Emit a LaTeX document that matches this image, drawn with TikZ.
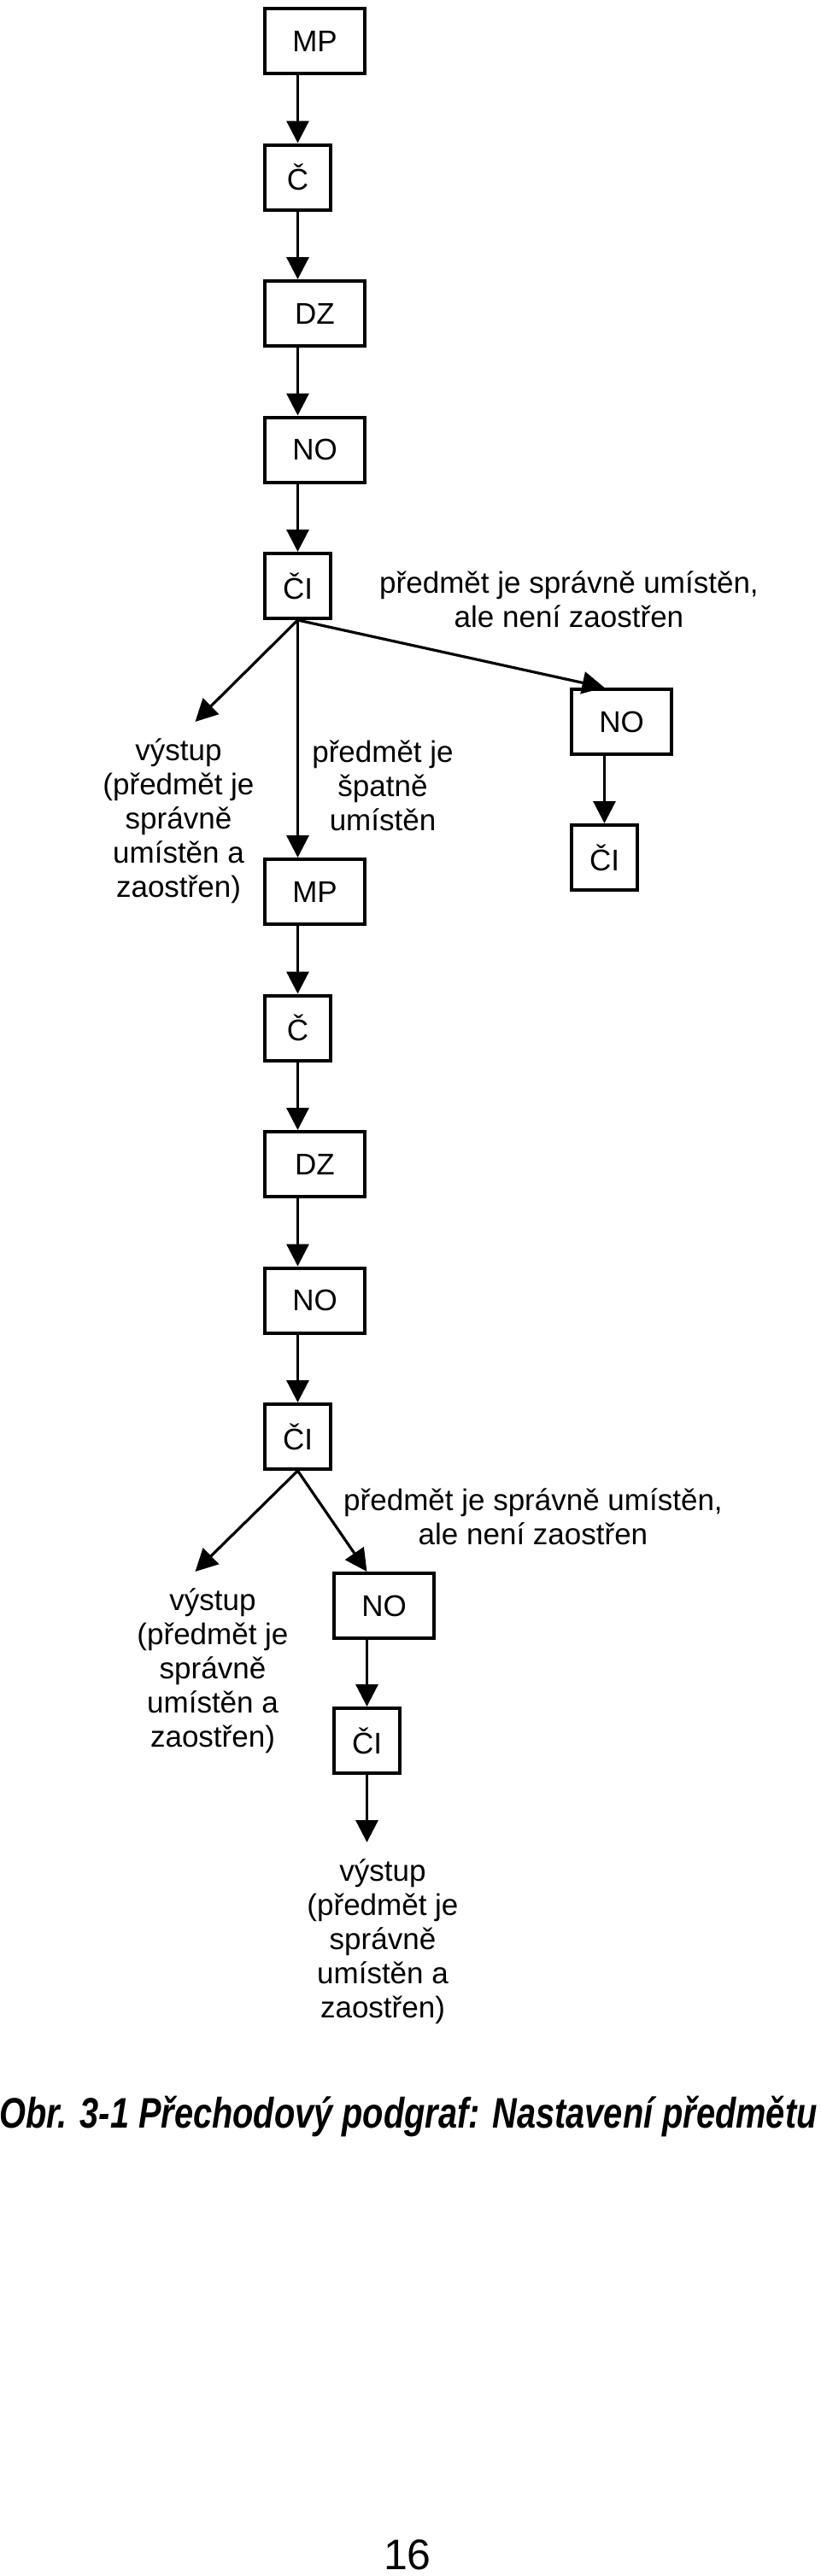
\documentclass[tikz,border=0pt]{standalone}
\usepackage{fontspec}
\setmainfont{Liberation Sans}
\usetikzlibrary{positioning,arrows.meta,calc}

\begin{document}
\begin{tikzpicture}[
  font=\fontsize{17.5pt}{20pt}\selectfont,
  >={Triangle[length=13pt,width=13pt]},
  %% Node styles
  box/.style={
    rectangle, draw=black, line width=2pt,
    minimum height=38pt, inner sep=0pt
  },
  widebox/.style={box, minimum width=58.5pt},
  narrowbox/.style={box, minimum width=38.5pt},
  note/.style={align=center, inner sep=0pt},
  %% Arrow styles
  flow/.style={->, line width=1.6pt},
]

\useasboundingbox (0,0) rectangle (480pt,-1508pt);

%% ── First pass ─────────────────────────────────────────────────────────────
\node[widebox, anchor=north west] (mp1) at (154pt,-4pt) {MP};
\node[narrowbox, below=39.75pt of mp1.south west, anchor=north west] (c1) {Č};
\node[widebox, below=39.75pt of c1.south west, anchor=north west] (dz1) {DZ};
\node[widebox, below=39.75pt of dz1.south west, anchor=north west] (no1) {NO};
\node[narrowbox, below=39.75pt of no1.south west, anchor=north west] (ci1) {ČI};

\draw[flow] (c1 |- mp1.south) -- (c1.north);
\draw[flow] (c1.south) -- (c1 |- dz1.north);
\draw[flow] (c1 |- dz1.south) -- (c1 |- no1.north);
\draw[flow] (c1 |- no1.south) -- (ci1.north);

%% ── Branches after first ČI ────────────────────────────────────────────────
\node[widebox, below=139pt of ci1.south west, anchor=north west] (mp2) {MP};
\node[widebox, below right=39.5pt and 139pt of ci1.south east, anchor=north west] (no3) {NO};
\node[narrowbox, below=39.5pt of no3.south west, anchor=north west] (ci3) {ČI};

\coordinate (end1) at ($(ci1.south)+(-60pt,-59.5pt)$);
\draw[flow] (ci1.south) -- (end1);
\draw[flow] (ci1.south) -- (ci1 |- mp2.north);
\draw[flow] (ci1.south) -- (ci3 |- no3.north);
\draw[flow] (ci3 |- no3.south) -- (ci3.north);

\node[note] (lab1) at ($(ci1.center)+(158.75pt,-8pt)$)
  {předmět je správně umístěn,\\ale není zaostřen};
\node[note] (out1) at ($(ci1.south)+(-69.75pt,-117.5pt)$)
  {výstup\\(předmět je\\správně\\umístěn a\\zaostřen)};
\node[note] (bad1) at ($(ci1.south)+(49.75pt,-97pt)$)
  {předmět je\\špatně\\umístěn};

%% ── Second pass ────────────────────────────────────────────────────────────
\node[narrowbox, below=39.75pt of mp2.south west, anchor=north west] (c2) {Č};
\node[widebox, below=39.75pt of c2.south west, anchor=north west] (dz2) {DZ};
\node[widebox, below=39.75pt of dz2.south west, anchor=north west] (no2) {NO};
\node[narrowbox, below=39.75pt of no2.south west, anchor=north west] (ci2) {ČI};

\draw[flow] (c2 |- mp2.south) -- (c2.north);
\draw[flow] (c2.south) -- (c2 |- dz2.north);
\draw[flow] (c2 |- dz2.south) -- (c2 |- no2.north);
\draw[flow] (c2 |- no2.south) -- (ci2.north);

%% ── Branches after second ČI ───────────────────────────────────────────────
\node[widebox, below=59pt of ci2.south east, anchor=north west] (no4) {NO};
\node[narrowbox, below=39pt of no4.south west, anchor=north west] (ci4) {ČI};

\coordinate (end2) at ($(ci2.south)+(-60pt,-59pt)$);
\coordinate (end3) at ($(ci4.south)+(0,-39.5pt)$);
\draw[flow] (ci2.south) -- (end2);
\draw[flow] (ci2.south) -- (ci4 |- no4.north);
\draw[flow] (ci4 |- no4.south) -- (ci4.north);
\draw[flow] (ci4.south) -- (end3);

\node[note] (lab2) at ($(ci2.center)+(137.75pt,-47pt)$)
  {předmět je správně umístěn,\\ale není zaostřen};
\node[note] (out2) at ($(ci2.south)+(-49.75pt,-117pt)$)
  {výstup\\(předmět je\\správně\\umístěn a\\zaostřen)};
\node[note] (out3) at ($(ci4.south)+(9.25pt,-97.5pt)$)
  {výstup\\(předmět je\\správně\\umístěn a\\zaostřen)};

%% ── Caption and page number ────────────────────────────────────────────────
\node[inner sep=0pt, xscale=0.795, transform shape,
      font=\fontsize{25pt}{30pt}\selectfont\bfseries\itshape]
  (cap) at (239pt,-1239pt) {Obr. 3-1 Přechodový podgraf: Nastavení předmětu};
\node[inner sep=0pt, font=\fontsize{25pt}{30pt}\selectfont]
  (pnum) at (238.5pt,-1495.5pt) {16};

\end{tikzpicture}
\end{document}
